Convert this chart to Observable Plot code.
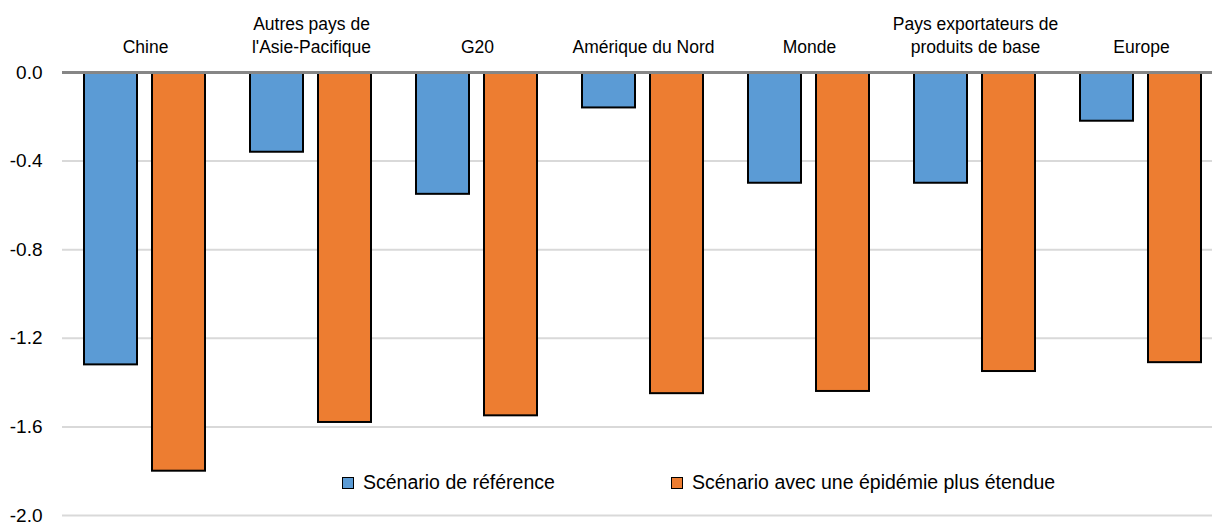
<!DOCTYPE html>
<html>
<head>
<meta charset="utf-8">
<script src="https://cdn.jsdelivr.net/npm/d3@7"></script>
<script src="https://cdn.jsdelivr.net/npm/@observablehq/plot@0.6"></script>
<style>
  html, body { margin: 0; padding: 0; background: #fff; }
  #wrap { position: relative; width: 1212px; height: 522px; overflow: hidden;
    font-family: "Liberation Sans Narrow", "Arial Narrow", "Liberation Sans", Arial, sans-serif; color: #000; }
  .leg { position: absolute; top: 471px; display: flex; align-items: center; font-size: 19.5px; white-space: nowrap; }
  .sw { width: 10px; height: 10px; border: 1.5px solid #000; margin-right: 9px; }
</style>
</head>
<body>
<div id="wrap"></div>
<script>
const categories = ["Chine", "Autres pays de\nl'Asie-Pacifique", "G20", "Amérique du Nord", "Monde", "Pays exportateurs de\nproduits de base", "Europe"];
const series = ["Scénario de référence", "Scénario avec une épidémie plus étendue"];
const reference = [-1.32, -0.36, -0.55, -0.16, -0.50, -0.50, -0.22];
const extended = [-1.80, -1.58, -1.55, -1.45, -1.44, -1.35, -1.31];
const yTicks = [0, -0.4, -0.8, -1.2, -1.6, -2.0];
const colors = ["#5B9BD5", "#ED7D31"];

const data = [];
categories.forEach((c, i) => {
  data.push({category: c, series: series[0], value: reference[i]});
  data.push({category: c, series: series[1], value: extended[i]});
});

const font = '"Liberation Sans Narrow", "Arial Narrow", "Liberation Sans", Arial, sans-serif';

const chart = Plot.plot({
  width: 1212,
  height: 522,
  marginTop: 72,
  marginBottom: 7,
  marginLeft: 60,
  marginRight: 0,
  style: {fontFamily: font, fontSize: "19px", color: "#000", background: "#fff"},
  fx: {domain: categories, range: [60, 1225], padding: 0, axis: null},
  x: {domain: series, paddingInner: 0.217, paddingOuter: 0.314, axis: null},
  y: {domain: [-2, 0], axis: null},
  color: {domain: series, range: colors},
  marks: [
    Plot.ruleY(yTicks.filter(d => d !== 0), {stroke: "#d9d9d9", strokeWidth: 2}),
    Plot.barY(data, {fx: "category", x: "series", y: "value", fill: "series", stroke: "#000", strokeWidth: 2}),
    Plot.ruleY([0], {stroke: "#868686", strokeWidth: 3}),
    Plot.axisFx({anchor: "top", tickSize: 0, tickPadding: 20, lineHeight: 1.3, fontSize: 17.5, label: null}),
    Plot.axisY({ticks: yTicks, tickFormat: d => d.toFixed(1), tickSize: 0, tickPadding: 20, fontSize: 19, label: null})
  ]
});

const wrap = document.getElementById("wrap");
wrap.appendChild(chart);

const legendLeft = [342, 671];
series.forEach((s, i) => {
  const item = document.createElement("div");
  item.className = "leg";
  item.style.left = legendLeft[i] + "px";
  const sw = document.createElement("div");
  sw.className = "sw";
  sw.style.background = colors[i];
  const t = document.createElement("span");
  t.textContent = s;
  item.appendChild(sw);
  item.appendChild(t);
  wrap.appendChild(item);
});
</script>
</body>
</html>
